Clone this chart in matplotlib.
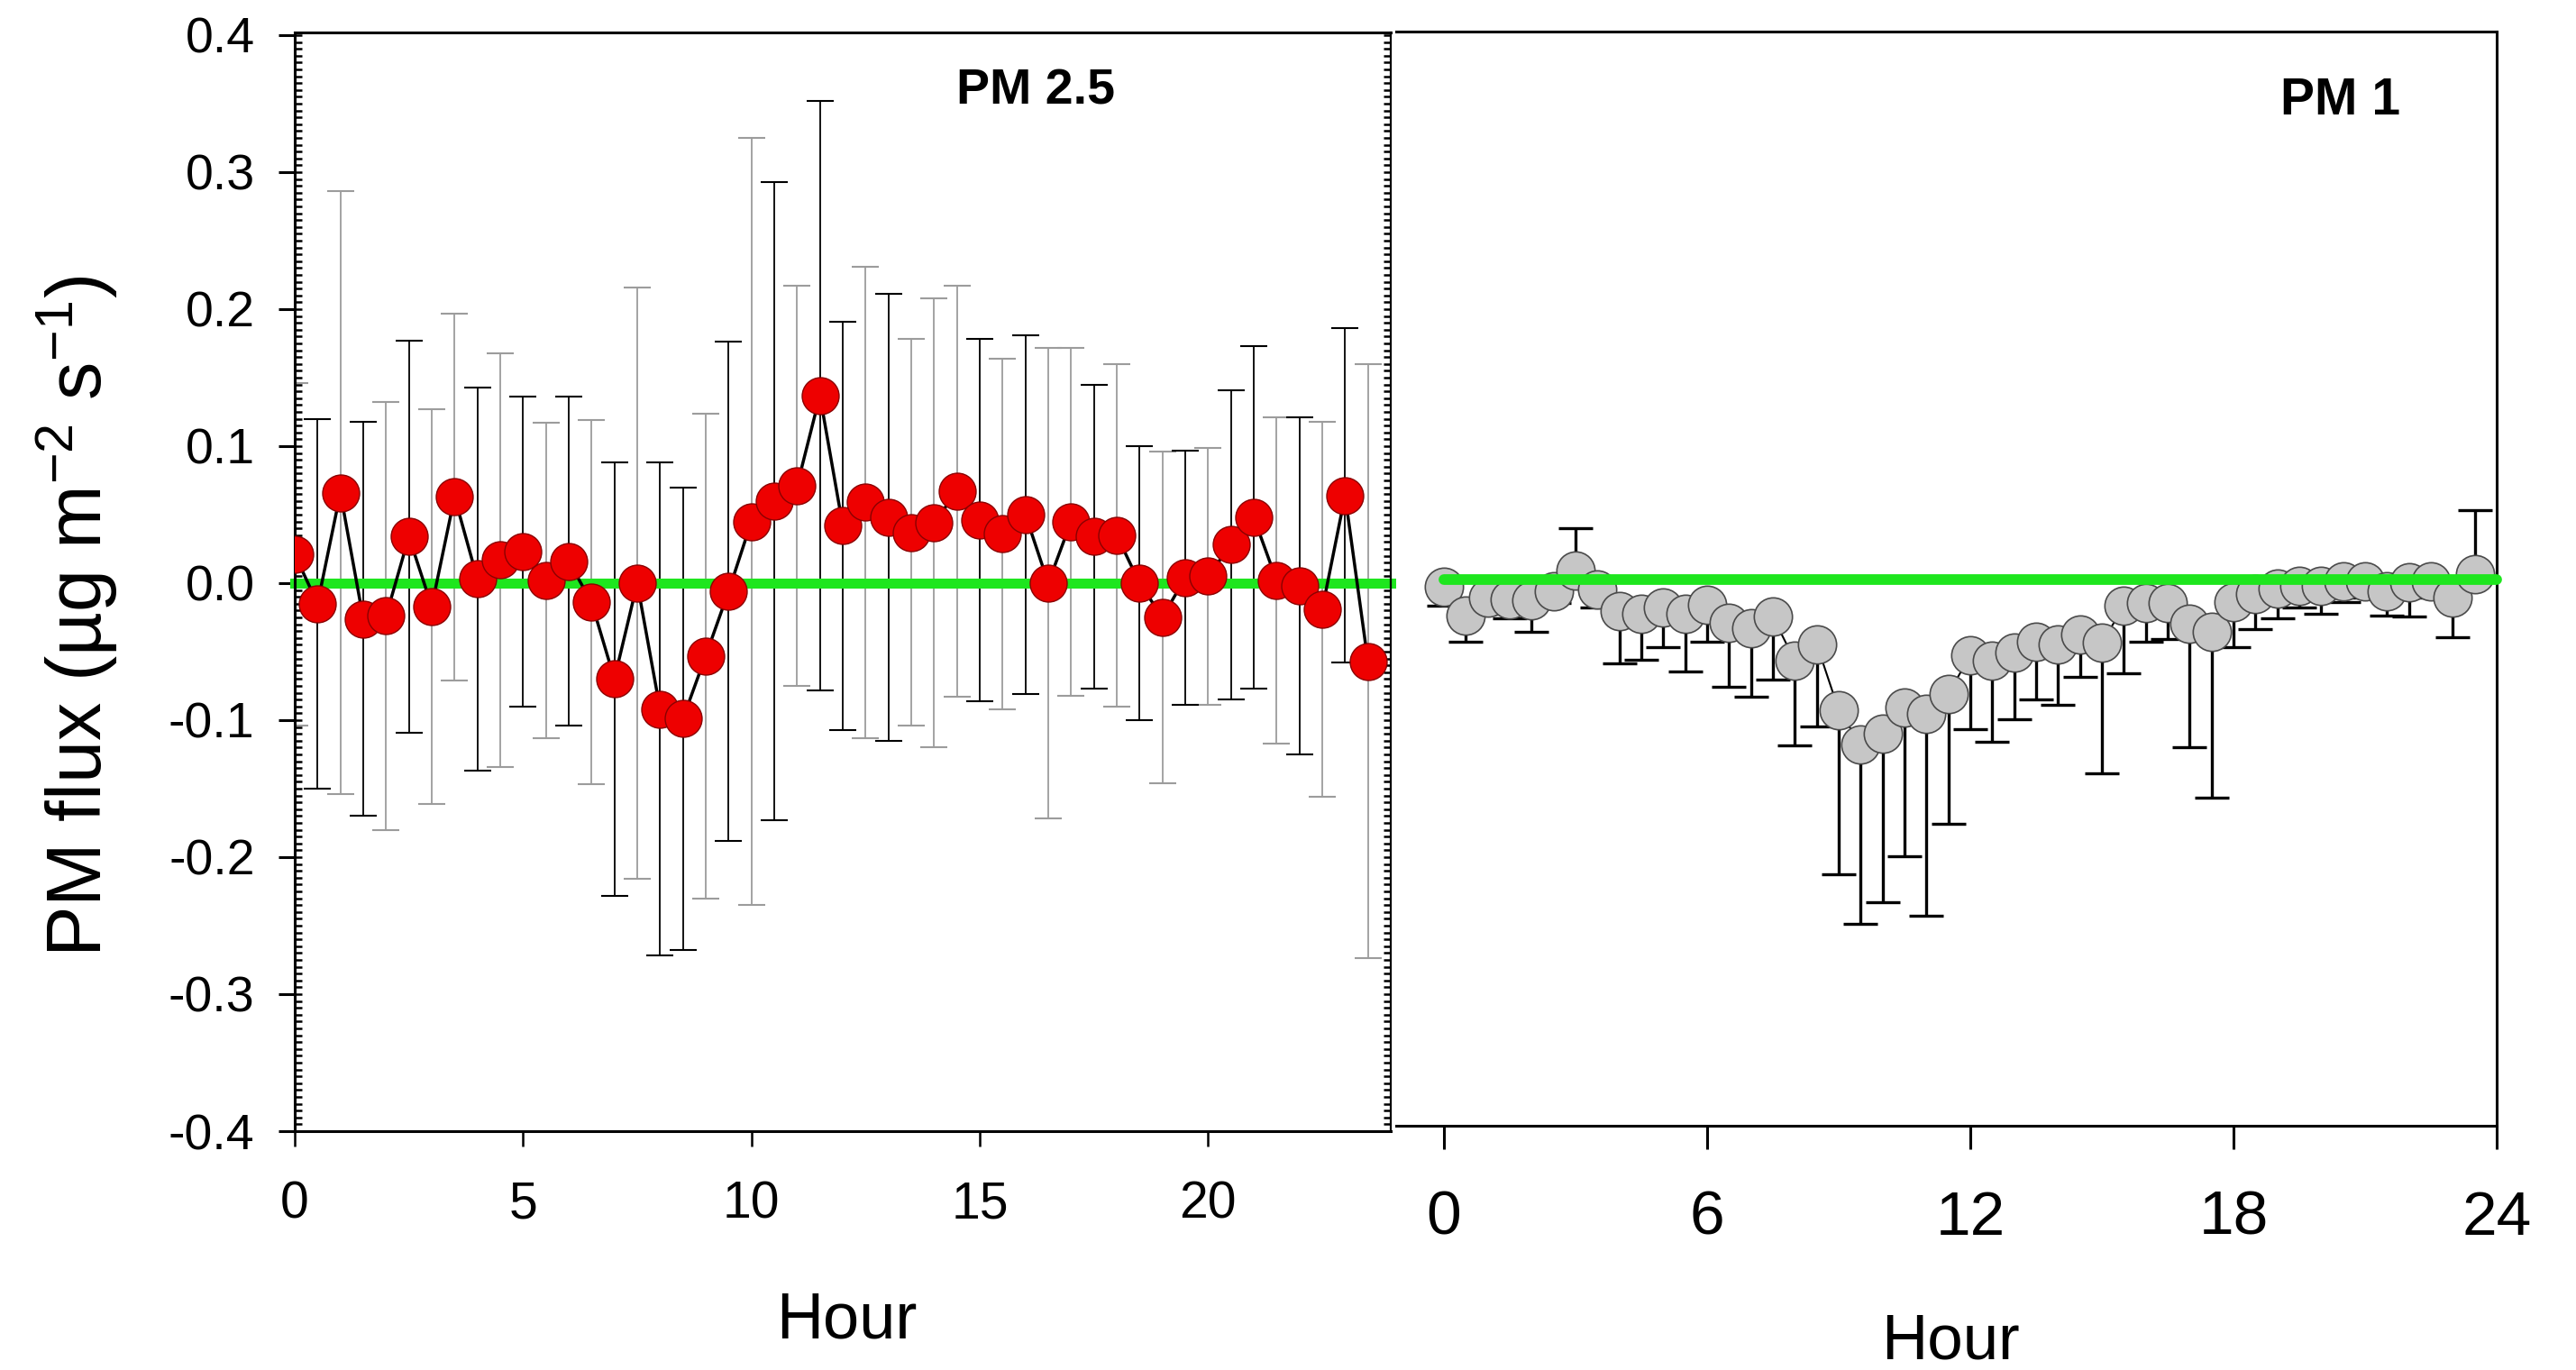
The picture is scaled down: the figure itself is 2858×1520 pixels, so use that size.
import numpy as np
import matplotlib
matplotlib.use("Agg")
import matplotlib.pyplot as plt
from matplotlib.ticker import MultipleLocator, FixedLocator, FixedFormatter

plt.rcParams['font.family'] = ['Liberation Sans', 'DejaVu Sans']
plt.rcParams['mathtext.fontset'] = 'custom'
plt.rcParams['mathtext.rm'] = 'Liberation Sans'
plt.rcParams['mathtext.it'] = 'Liberation Sans'
plt.rcParams['axes.unicode_minus'] = False

# ---------------- data ----------------
hours = np.arange(0, 24, 0.5)

pm25_flux = [0.021, -0.015, 0.066, -0.026, -0.024, 0.034, -0.017, 0.063,
             0.003, 0.017, 0.023, 0.002, 0.016, -0.014, -0.070, 0.000,
             -0.092, -0.099, -0.053, -0.006, 0.045, 0.060, 0.071, 0.137,
             0.042, 0.059, 0.048, 0.037, 0.044, 0.067, 0.046, 0.036,
             0.050, 0.000, 0.045, 0.034, 0.035, 0.000, -0.025, 0.004,
             0.005, 0.028, 0.048, 0.002, -0.002, -0.019, 0.064, -0.057]
pm25_sd = [0.125, 0.135, 0.220, 0.144, 0.156, 0.143, 0.144, 0.134,
           0.140, 0.151, 0.113, 0.115, 0.120, 0.133, 0.158, 0.216,
           0.180, 0.169, 0.177, 0.182, 0.280, 0.233, 0.146, 0.215,
           0.149, 0.172, 0.163, 0.141, 0.164, 0.150, 0.132, 0.128,
           0.131, 0.172, 0.127, 0.111, 0.125, 0.100, 0.121, 0.093,
           0.094, 0.113, 0.125, 0.119, 0.123, 0.137, 0.122, 0.217]
# error bar shade for each PM2.5 point (K = black, G = grey)
pm25_bar_shade = ['G', 'K', 'G', 'K', 'G', 'K', 'G', 'G',
                  'K', 'G', 'K', 'G', 'K', 'G', 'K', 'G',
                  'K', 'K', 'G', 'K', 'G', 'K', 'G', 'K',
                  'K', 'G', 'K', 'G', 'G', 'G', 'K', 'G',
                  'K', 'G', 'G', 'K', 'G', 'K', 'G', 'K',
                  'G', 'K', 'K', 'G', 'K', 'G', 'K', 'G']

pm1_flux = [-0.005, -0.026, -0.013, -0.014, -0.015, -0.008, 0.007, -0.007,
            -0.023, -0.025, -0.020, -0.025, -0.018, -0.031, -0.035, -0.027,
            -0.059, -0.047, -0.095, -0.120, -0.112, -0.093, -0.098, -0.083,
            -0.055, -0.059, -0.053, -0.045, -0.047, -0.040, -0.046, -0.019,
            -0.017, -0.017, -0.032, -0.038, -0.016, -0.010, -0.006, -0.004,
            -0.004, -0.001, -0.001, -0.008, -0.002, -0.001, -0.013, 0.004]
pm1_sd = [0.014, 0.019, 0.012, 0.014, 0.023, 0.009, 0.031, 0.013,
          0.038, 0.033, 0.029, 0.042, 0.027, 0.047, 0.050, 0.046,
          0.062, 0.060, 0.120, 0.131, 0.123, 0.109, 0.147, 0.095,
          0.054, 0.059, 0.049, 0.042, 0.044, 0.031, 0.095, 0.049,
          0.028, 0.026, 0.090, 0.121, 0.033, 0.026, 0.022, 0.016,
          0.021, 0.015, 0.012, 0.018, 0.025, 0.012, 0.029, 0.047]

y_ticks = [-0.4, -0.3, -0.2, -0.1, 0.0, 0.1, 0.2, 0.3, 0.4]
y_tick_labels = ['-0.4', '-0.3', '-0.2', '-0.1', '0.0', '0.1', '0.2', '0.3', '0.4']
left_x_ticks = [0, 5, 10, 15, 20]
right_x_ticks = [0, 6, 12, 18, 24]

# ---------------- figure ----------------
W, H = 2858, 1520
DPI = 100
fig = plt.figure(figsize=(W / DPI, H / DPI), dpi=DPI)

GREEN = '#1ee61e'
RED = '#ee0000'
GREY_BAR = '#9c9c9c'

def fx(px):
    return px / W

def fy(py):
    return 1 - py / H

# ---- left panel (PM 2.5) ----
axL = fig.add_axes([fx(327), fy(1255), fx(1543) - fx(327), fy(35.5) - fy(1255)])
axL.set_xlim(0, 24)
axL.set_ylim(-0.4, 0.4023)

h = np.asarray(hours)
v25 = np.asarray(pm25_flux)
e25 = np.asarray(pm25_sd)
shade = np.asarray(pm25_bar_shade)
for key, col in (('G', GREY_BAR), ('K', 'black')):
    m = shade == key
    axL.errorbar(h[m], v25[m], yerr=e25[m], fmt='none', ecolor=col,
                 elinewidth=1.3, capsize=10.5, capthick=1.5, zorder=1)
axL.axhline(0, color=GREEN, lw=8, zorder=2, clip_on=False)
axL.plot(h, v25, color='black', lw=2.5, zorder=3)
axL.plot(h, v25, 'o', ms=29.5, mfc=RED, mec='#8a0000', mew=1.0, zorder=4)

axL.yaxis.set_major_locator(FixedLocator(y_ticks))
axL.yaxis.set_major_formatter(FixedFormatter(y_tick_labels))
axL.yaxis.set_minor_locator(MultipleLocator(0.005))
axL.yaxis.remove_overlapping_locs = False
axL.xaxis.set_major_locator(FixedLocator(left_x_ticks))
axL.xaxis.set_minor_locator(FixedLocator([]))
axL.tick_params(axis='y', which='major', direction='out', length=13, width=2.2,
                labelsize=40, pad=19, left=True, right=False)
axL.tick_params(axis='y', which='minor', direction='in', length=6, width=1.8,
                left=True, right=True)
axL.tick_params(axis='x', which='major', direction='out', length=12, width=1.8,
                labelsize=41, pad=27, top=False)
for s in axL.spines.values():
    s.set_linewidth(2.2)
axL.spines['right'].set_linewidth(1.6)

# ---- right panel (PM 1) ----
axR = fig.add_axes([fx(1549), fy(1249), fx(2770) - fx(1549), fy(35) - fy(1249)])
axR.set_xlim(-1.09, 24)
axR.set_ylim(-0.3984, 0.4003)

v1 = np.asarray(pm1_flux)
e1 = np.asarray(pm1_sd)
lo = np.where(v1 < 0, e1, 0.0)
hi = np.where(v1 >= 0, e1, 0.0)
axR.errorbar(h, v1, yerr=[lo, hi], fmt='none', ecolor='black',
             elinewidth=2.4, capsize=13.5, capthick=2.4, zorder=1)
axR.plot(h, v1, color='black', lw=1.5, zorder=2)
axR.plot(h, v1, 'o', ms=30.5, mfc='#c6c6c6', mec='#4a4a4a', mew=1.2, zorder=3)
axR.plot([0, 24], [0, 0], color=GREEN, lw=8.5, solid_capstyle='round',
         zorder=5, clip_on=False)

axR.xaxis.set_major_locator(FixedLocator(right_x_ticks))
axR.xaxis.set_minor_locator(FixedLocator([]))
axR.set_yticks([])
axR.tick_params(axis='x', which='major', direction='out', length=19, width=2.2,
                labelsize=50, pad=32, top=False)
axR.spines['left'].set_visible(False)
for k in ('top', 'right', 'bottom'):
    axR.spines[k].set_linewidth(2.2)

# ---- texts ----
fig.text(fx(1149), fy(102), 'PM 2.5', fontsize=40, fontweight='bold',
         ha='center', va='center')
fig.text(fx(2597), fy(112), 'PM 1', fontsize=41, fontweight='bold',
         ha='center', va='center')
fig.text(fx(939), fy(1466), 'Hour', fontsize=52, ha='center', va='center')
fig.text(fx(2164), fy(1489), 'Hour', fontsize=51, ha='center', va='center')
fig.text(fx(85), fy(684), 'PM flux (µg m$^{-2}$ s$^{-1}$)', fontsize=61,
         rotation=90, ha='center', va='center')

fig.savefig('out.png', dpi=DPI, facecolor='white')
